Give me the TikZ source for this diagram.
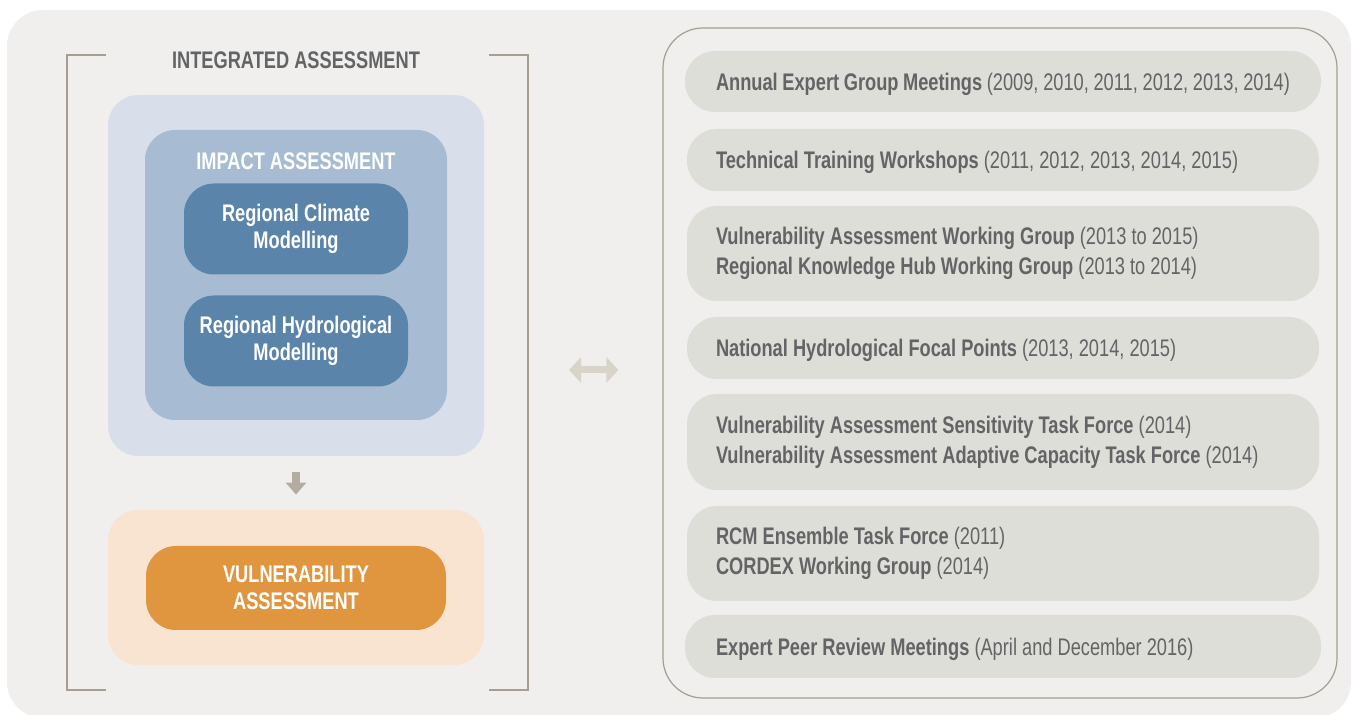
\documentclass[tikz,border=0pt]{standalone}
\usepackage{fontspec}
\setmainfont{Liberation Sans}[FakeStretch=0.76]
\usepackage{xcolor}
\usetikzlibrary{arrows.meta}

\definecolor{bgGray}{HTML}{F0EFED}
\definecolor{lineTaupe}{HTML}{A69E90}
\definecolor{textGray}{HTML}{636466}
\definecolor{paleBlue}{HTML}{D9DFEA}
\definecolor{midBlue}{HTML}{A7BCD3}
\definecolor{deepBlue}{HTML}{5A84A9}
\definecolor{palePeach}{HTML}{F8E4D1}
\definecolor{deepOrange}{HTML}{E0963F}
\definecolor{itemGray}{HTML}{DEDED9}
\definecolor{arrowTaupe}{HTML}{B3ADA0}
\definecolor{arrowPale}{HTML}{D8D4CA}

\begin{document}
\begin{tikzpicture}[x=0.5pt,y=-0.5pt,
		box/.style={rounded corners=15pt, inner sep=0pt},
		label/.style={font=\fontsize{12}{13.5}\selectfont\bfseries, align=center},
		innerbox/.style={box, fill=deepBlue, minimum width=112pt, minimum height=45.5pt,
			text=white, label},
		itembox/.style={box, fill=itemGray, minimum width=316pt, text width=287pt,
			inner xsep=14.5pt, align=flush left, text=textGray,
			font=\fontsize{12}{15}\selectfont},
		oneline/.style={text depth=0pt},
		bracket/.style={draw=lineTaupe, line width=1pt}]
	\useasboundingbox (0,0) rectangle (1351,715);
	\fill [bgGray, rounded corners=18pt] (7,10) rectangle (1351,718);

	% left: integrated assessment
	\draw [bracket] (106,55) -- (67,55) -- (67,690) -- (106,690);
	\draw [bracket] (489,55) -- (528,55) -- (528,690) -- (489,690);
	\node (integrated) [label, text=textGray] at (296,60) {INTEGRATED ASSESSMENT};

	\node (outer) [box, fill=paleBlue, minimum width=188pt, minimum height=180.5pt] at (296,275.5) {};
	\node (impact) [box, fill=midBlue, minimum width=151pt, minimum height=145pt] at (296,275) {};
	\node (impacttitle) [label, text=white] at (296,161) {IMPACT ASSESSMENT};
	\node (climate) [innerbox] at (296,229) {Regional Climate\\Modelling};
	\node (hydro) [innerbox] at (296,341) {Regional Hydrological\\Modelling};

	\node (vulnouter) [box, fill=palePeach, minimum width=188pt, minimum height=77.5pt] at (296,587.5) {};
	\node (vuln) [box, fill=deepOrange, minimum width=150pt, minimum height=42pt,
		text=white, label] at (296,588) {VULNERABILITY\\ASSESSMENT};

	\draw [arrowTaupe, line width=4pt, shorten <=8pt, shorten >=7.5pt,
		-{Triangle[width=10pt,length=6pt]}] (outer) -- (vulnouter);

	% right: meetings and working groups
	\node (frame) [box, draw=lineTaupe, line width=0.6pt, rounded corners=20pt,
		minimum width=337pt, minimum height=335pt] at (1000,363) {};

	\node (annual) [itembox, oneline, minimum width=318pt, minimum height=30.5pt] at (1003,81.5)
		{\textbf{Annual Expert Group Meetings} (2009, 2010, 2011, 2012, 2013, 2014)};
	\node (training) [itembox, oneline, minimum height=31pt] at (1003,160)
		{\textbf{Technical Training Workshops} (2011, 2012, 2013, 2014, 2015)};
	\node (groups) [itembox, minimum height=47.5pt] at (1003,253.5)
		{\textbf{Vulnerability Assessment Working Group} (2013 to 2015)\\
		 \textbf{Regional Knowledge Hub Working Group} (2013 to 2014)};
	\node (focal) [itembox, oneline, minimum height=31pt] at (1003,348)
		{\textbf{National Hydrological Focal Points} (2013, 2014, 2015)};
	\node (taskforces) [itembox, minimum height=48pt] at (1003,442)
		{\textbf{Vulnerability Assessment Sensitivity Task Force} (2014)\\
		 \textbf{Vulnerability Assessment Adaptive Capacity Task Force} (2014)};
	\node (rcm) [itembox, minimum height=47.5pt] at (1003,553.5)
		{\textbf{RCM Ensemble Task Force} (2011)\\
		 \textbf{CORDEX Working Group} (2014)};
	\node (review) [itembox, oneline, minimum width=318pt, minimum height=31.5pt] at (1003,646.5)
		{\textbf{Expert Peer Review Meetings} (April and December 2016)};

	\coordinate (bracketedge) at (528,370);
	\draw [arrowPale, line width=3.5pt, shorten <=20.5pt, shorten >=22pt,
		{Triangle[width=12.5pt,length=6pt]}-{Triangle[width=12.5pt,length=6pt]}]
		(bracketedge) -- (frame.west |- bracketedge);
\end{tikzpicture}
\end{document}
